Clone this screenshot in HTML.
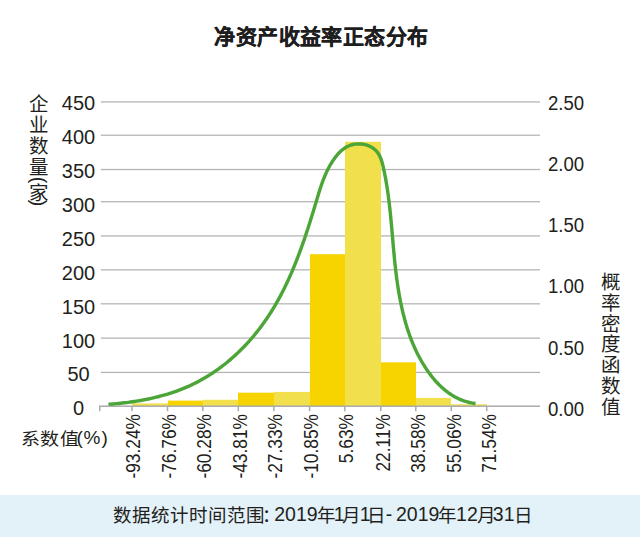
<!DOCTYPE html>
<html lang="zh-CN"><head><meta charset="utf-8">
<style>
html,body{margin:0;padding:0;background:#fff;}
body{width:640px;height:537px;position:relative;overflow:hidden;font-family:"Liberation Sans",sans-serif;color:#231f20;}
.title{position:absolute;left:0;width:643px;top:23.5px;text-align:center;font-size:21px;letter-spacing:0.47px;font-weight:bold;line-height:26px;color:#1e1e1e;-webkit-text-stroke:0.25px #1e1e1e;}
svg{position:absolute;left:0;top:0;}
.yl{position:absolute;left:28.5px;width:100px;font-size:20px;line-height:23px;text-align:center;}
.yr{position:absolute;left:548px;font-size:20px;line-height:23px;transform-origin:0 50%;transform:scaleX(0.93);}
.xl{position:absolute;top:414.2px;width:0;height:0;}
.xl span{position:absolute;right:0;top:-12px;line-height:24px;font-size:20.5px;white-space:nowrap;transform-origin:100% 50%;transform:rotate(-90deg) scaleX(0.846);}
.vc{position:absolute;width:20px;height:20px;font-size:19.5px;line-height:20px;text-align:center;}
.foot{position:absolute;left:0;top:495px;width:640px;height:42px;background:#e3f1f9;}
.foot span{position:absolute;top:8px;font-size:18.5px;line-height:26px;white-space:nowrap;color:#231f20;}
.foot span.d{font-size:19.5px;top:6px;}
.xlab span.d{font-size:19px;top:424.5px;transform:none;}
.xlab span{transform-origin:0 50%;transform:scaleX(1.12);}
.xlab span{position:absolute;top:426.5px;font-size:17px;line-height:26px;white-space:nowrap;}
</style></head><body>
<div class="title">净资产收益率正态分布</div>
<svg width="640" height="537" viewBox="0 0 640 537">
<rect x="100.8" y="101.30" width="439.2" height="1.25" fill="#b3b3b3"/>
<rect x="100.8" y="134.60" width="439.2" height="1.25" fill="#b3b3b3"/>
<rect x="100.8" y="168.90" width="439.2" height="1.25" fill="#b3b3b3"/>
<rect x="100.8" y="201.10" width="439.2" height="1.25" fill="#b3b3b3"/>
<rect x="100.8" y="235.30" width="439.2" height="1.25" fill="#b3b3b3"/>
<rect x="100.8" y="269.20" width="439.2" height="1.25" fill="#b3b3b3"/>
<rect x="100.8" y="303.20" width="439.2" height="1.25" fill="#b3b3b3"/>
<rect x="100.8" y="337.50" width="439.2" height="1.25" fill="#b3b3b3"/>
<rect x="100.8" y="371.80" width="439.2" height="1.25" fill="#b3b3b3"/>
<rect x="132" y="403.40" width="36" height="2.80" fill="#f2df4c"/>
<rect x="168" y="400.60" width="35" height="5.60" fill="#f7d400"/>
<rect x="203" y="399.80" width="35" height="6.40" fill="#f2df4c"/>
<rect x="238" y="392.70" width="36" height="13.50" fill="#f7d400"/>
<rect x="274" y="391.90" width="36" height="14.30" fill="#f2df4c"/>
<rect x="310" y="254.20" width="35" height="152.00" fill="#f7d400"/>
<rect x="345" y="141.80" width="36" height="264.40" fill="#f2df4c"/>
<rect x="381" y="362.30" width="35" height="43.90" fill="#f7d400"/>
<rect x="416" y="397.90" width="35" height="8.30" fill="#f2df4c"/>
<rect x="451" y="404.30" width="36" height="1.90" fill="#f2df4c"/>
<rect x="99" y="405.45" width="441" height="1.5" fill="#ababab"/>
<rect x="99.00" y="406.20" width="1.5" height="5" fill="#ababab"/>
<rect x="131.25" y="406.20" width="1.5" height="5" fill="#ababab"/>
<rect x="166.75" y="406.20" width="1.5" height="5" fill="#ababab"/>
<rect x="202.05" y="406.20" width="1.5" height="5" fill="#ababab"/>
<rect x="237.55" y="406.20" width="1.5" height="5" fill="#ababab"/>
<rect x="273.15" y="406.20" width="1.5" height="5" fill="#ababab"/>
<rect x="308.85" y="406.20" width="1.5" height="5" fill="#ababab"/>
<rect x="344.05" y="406.20" width="1.5" height="5" fill="#ababab"/>
<rect x="380.05" y="406.20" width="1.5" height="5" fill="#ababab"/>
<rect x="415.05" y="406.20" width="1.5" height="5" fill="#ababab"/>
<rect x="450.55" y="406.20" width="1.5" height="5" fill="#ababab"/>
<rect x="485.95" y="406.20" width="1.5" height="5" fill="#ababab"/>
<path d="M108.50,404.28 L110.50,404.14 L112.51,403.99 L114.51,403.82 L116.51,403.65 L118.51,403.46 L120.51,403.25 L122.51,403.04 L124.50,402.81 L126.50,402.57 L128.49,402.32 L130.48,402.05 L132.47,401.77 L134.45,401.47 L136.44,401.16 L138.42,400.84 L140.40,400.50 L142.38,400.14 L144.35,399.77 L146.32,399.39 L148.29,398.99 L150.26,398.57 L152.22,398.13 L154.17,397.68 L156.13,397.21 L158.08,396.73 L160.02,396.22 L161.96,395.70 L163.89,395.16 L165.82,394.60 L167.75,394.02 L169.67,393.43 L171.58,392.81 L173.48,392.17 L175.38,391.52 L177.27,390.84 L179.16,390.14 L181.03,389.42 L182.90,388.68 L184.76,387.92 L186.61,387.14 L188.44,386.33 L190.27,385.50 L192.09,384.65 L193.90,383.77 L195.70,382.88 L197.48,381.96 L199.26,381.02 L201.02,380.05 L202.77,379.07 L204.51,378.07 L206.24,377.04 L207.95,375.99 L209.66,374.93 L211.35,373.84 L213.02,372.74 L214.69,371.61 L216.34,370.47 L217.98,369.31 L219.60,368.13 L221.21,366.93 L222.81,365.71 L224.40,364.48 L225.97,363.23 L227.53,361.96 L229.07,360.68 L230.60,359.37 L232.12,358.06 L233.62,356.72 L235.11,355.38 L236.59,354.01 L238.05,352.63 L239.49,351.24 L240.92,349.83 L242.34,348.41 L243.75,346.97 L245.14,345.52 L246.51,344.06 L247.87,342.58 L249.22,341.09 L250.55,339.58 L251.86,338.07 L253.17,336.54 L254.45,335.00 L255.73,333.44 L256.98,331.88 L258.23,330.30 L259.46,328.71 L260.67,327.11 L261.87,325.50 L263.05,323.87 L264.22,322.24 L265.37,320.60 L266.51,318.94 L267.64,317.28 L268.75,315.60 L269.84,313.92 L270.92,312.22 L271.99,310.52 L273.04,308.81 L274.07,307.09 L275.10,305.36 L276.10,303.62 L277.10,301.88 L278.08,300.13 L279.05,298.37 L280.01,296.60 L280.95,294.83 L281.88,293.05 L282.80,291.26 L283.70,289.47 L284.59,287.67 L285.48,285.86 L286.34,284.05 L287.20,282.23 L288.05,280.41 L288.88,278.59 L289.71,276.76 L290.52,274.92 L291.33,273.08 L292.12,271.23 L292.90,269.38 L293.68,267.53 L294.44,265.67 L295.20,263.81 L295.95,261.95 L296.68,260.08 L297.41,258.21 L298.13,256.33 L298.84,254.45 L299.55,252.57 L300.25,250.69 L300.93,248.80 L301.62,246.91 L302.29,245.02 L302.96,243.13 L303.62,241.23 L304.28,239.33 L304.93,237.43 L305.57,235.53 L306.21,233.62 L306.84,231.72 L307.47,229.81 L308.09,227.90 L308.71,225.99 L309.32,224.07 L309.93,222.16 L310.53,220.24 L311.13,218.33 L311.73,216.41 L312.32,214.49 L312.91,212.57 L313.50,210.65 L314.08,208.73 L314.66,206.81 L315.24,204.88 L315.82,202.96 L316.40,201.03 L316.97,199.11 L317.55,197.19 L318.13,195.26 L318.71,193.34 L319.31,191.42 L319.91,189.51 L320.53,187.60 L321.17,185.69 L321.83,183.79 L322.50,181.90 L323.21,180.02 L323.94,178.15 L324.69,176.29 L325.48,174.44 L326.31,172.61 L327.17,170.79 L328.06,169.00 L329.00,167.22 L329.97,165.46 L330.99,163.73 L332.05,162.03 L333.15,160.35 L334.30,158.70 L335.50,157.08 L336.74,155.51 L338.05,153.98 L339.42,152.51 L340.85,151.11 L342.37,149.79 L343.97,148.58 L345.64,147.47 L347.40,146.50 L349.24,145.68 L351.13,145.02 L353.07,144.52 L355.05,144.16 L357.05,143.96 L359.06,143.91 L361.06,144.01 L363.06,144.25 L365.02,144.65 L366.95,145.20 L368.84,145.90 L370.66,146.75 L372.39,147.76 L374.03,148.92 L375.54,150.24 L376.91,151.71 L378.12,153.31 L379.17,155.02 L380.07,156.82 L380.85,158.67 L381.52,160.56 L382.11,162.48 L382.64,164.42 L383.11,166.37 L383.55,168.33 L383.96,170.30 L384.37,172.26 L384.76,174.23 L385.14,176.21 L385.50,178.18 L385.86,180.16 L386.20,182.14 L386.53,184.12 L386.85,186.10 L387.16,188.09 L387.47,190.07 L387.76,192.06 L388.04,194.05 L388.31,196.04 L388.57,198.03 L388.83,200.02 L389.07,202.02 L389.31,204.01 L389.54,206.01 L389.77,208.00 L389.98,210.00 L390.20,212.00 L390.40,213.99 L390.60,215.99 L390.80,217.99 L390.99,219.99 L391.18,221.99 L391.36,223.99 L391.54,225.99 L391.72,227.99 L391.90,229.99 L392.07,231.99 L392.25,233.99 L392.42,236.00 L392.59,238.00 L392.77,240.00 L392.94,242.00 L393.11,244.00 L393.29,246.00 L393.47,248.00 L393.65,250.00 L393.83,252.00 L394.02,254.00 L394.21,256.00 L394.40,258.00 L394.60,260.00 L394.80,262.00 L395.01,264.00 L395.23,265.99 L395.45,267.99 L395.68,269.99 L395.91,271.98 L396.15,273.97 L396.40,275.97 L396.66,277.96 L396.93,279.95 L397.21,281.94 L397.49,283.93 L397.79,285.91 L398.09,287.90 L398.41,289.88 L398.73,291.87 L399.07,293.85 L399.42,295.82 L399.78,297.80 L400.15,299.77 L400.54,301.74 L400.94,303.71 L401.35,305.68 L401.77,307.64 L402.21,309.60 L402.67,311.56 L403.14,313.51 L403.62,315.46 L404.13,317.41 L404.64,319.35 L405.18,321.28 L405.73,323.21 L406.30,325.14 L406.88,327.06 L407.49,328.98 L408.11,330.89 L408.76,332.79 L409.42,334.69 L410.10,336.57 L410.80,338.46 L411.53,340.33 L412.27,342.19 L413.04,344.05 L413.83,345.90 L414.64,347.74 L415.48,349.56 L416.33,351.38 L417.21,353.18 L418.12,354.98 L419.05,356.76 L420.00,358.53 L420.98,360.28 L421.98,362.02 L423.01,363.75 L424.06,365.46 L425.14,367.15 L426.24,368.83 L427.37,370.49 L428.53,372.13 L429.71,373.76 L430.92,375.36 L432.16,376.94 L433.43,378.50 L434.72,380.03 L436.05,381.54 L437.42,383.02 L438.81,384.46 L440.24,385.87 L441.70,387.25 L443.20,388.59 L444.73,389.89 L446.30,391.15 L447.90,392.36 L449.54,393.52 L451.21,394.63 L452.91,395.69 L454.65,396.70 L456.42,397.64 L458.23,398.53 L460.06,399.35 L461.92,400.11 L463.80,400.81 L465.71,401.43 L467.64,401.99 L469.59,402.48 L471.55,402.89 L473.53,403.24 L475.52,403.53" fill="none" stroke="#4ca537" stroke-width="3.4" stroke-linecap="butt" stroke-linejoin="round"/>
</svg>
<div class="yl" style="top:92.2px">450</div>
<div class="yl" style="top:126.2px">400</div>
<div class="yl" style="top:160.1px">350</div>
<div class="yl" style="top:193.9px">300</div>
<div class="yl" style="top:227.8px">250</div>
<div class="yl" style="top:261.8px">200</div>
<div class="yl" style="top:295.6px">150</div>
<div class="yl" style="top:329.5px">100</div>
<div class="yl" style="top:363.4px">50</div>
<div class="yl" style="top:397.3px">0</div>
<div class="yr" style="top:91.5px">2.50</div>
<div class="yr" style="top:152.8px">2.00</div>
<div class="yr" style="top:214.0px">1.50</div>
<div class="yr" style="top:275.3px">1.00</div>
<div class="yr" style="top:336.5px">0.50</div>
<div class="yr" style="top:397.8px">0.00</div>
<div class="xl" style="left:133.8px"><span>-93.24%</span></div>
<div class="xl" style="left:169.3px"><span>-76.76%</span></div>
<div class="xl" style="left:204.6px"><span>-60.28%</span></div>
<div class="xl" style="left:240.1px"><span>-43.81%</span></div>
<div class="xl" style="left:275.7px"><span>-27.33%</span></div>
<div class="xl" style="left:311.4px"><span>-10.85%</span></div>
<div class="xl" style="left:346.6px"><span>5.63%</span></div>
<div class="xl" style="left:382.6px"><span>22.11%</span></div>
<div class="xl" style="left:417.6px"><span>38.58%</span></div>
<div class="xl" style="left:453.1px"><span>55.06%</span></div>
<div class="xl" style="left:488.5px"><span>71.54%</span></div>
<div class="vc" style="left:29.2px;top:94.2px">企</div>
<div class="vc" style="left:29.2px;top:115.0px">业</div>
<div class="vc" style="left:29.2px;top:136.1px">数</div>
<div class="vc" style="left:29.2px;top:157.4px">量</div>
<div class="vc" style="left:29.2px;top:169.8px;transform:rotate(90deg)">(</div>
<div class="vc" style="left:29.2px;top:183.2px">家</div>
<div class="vc" style="left:29.2px;top:192.8px;transform:rotate(90deg)">)</div>
<div class="vc" style="left:601.2px;top:271.8px">概</div>
<div class="vc" style="left:601.2px;top:292.7px">率</div>
<div class="vc" style="left:601.2px;top:313.5px">密</div>
<div class="vc" style="left:601.2px;top:334.4px">度</div>
<div class="vc" style="left:601.2px;top:355.3px">函</div>
<div class="vc" style="left:601.2px;top:376.2px">数</div>
<div class="vc" style="left:601.2px;top:397.0px">值</div>
<div class="xlab"><span style="left:20.50px">系</span><span style="left:40.00px">数</span><span style="left:59.50px">值</span><span class="d" style="left:76.50px">(</span><span class="d" style="left:83.50px">%</span><span class="d" style="left:101.50px">)</span></div>
<div class="foot"><span style="left:112.90px">数据统计时间范围</span><span style="left:261.50px">：</span><span class="d" style="left:274.20px">2019</span><span style="left:316.90px">年</span><span class="d" style="left:333.80px">1</span><span style="left:342.25px">月</span><span class="d" style="left:359.75px">1</span><span style="left:367.00px">日</span><span class="d" style="left:385.70px">-</span><span class="d" style="left:396.00px">2019</span><span style="left:437.90px">年</span><span class="d" style="left:456.10px">12</span><span style="left:476.60px">月</span><span class="d" style="left:492.80px">31</span><span style="left:514.00px">日</span></div>
</body></html>
